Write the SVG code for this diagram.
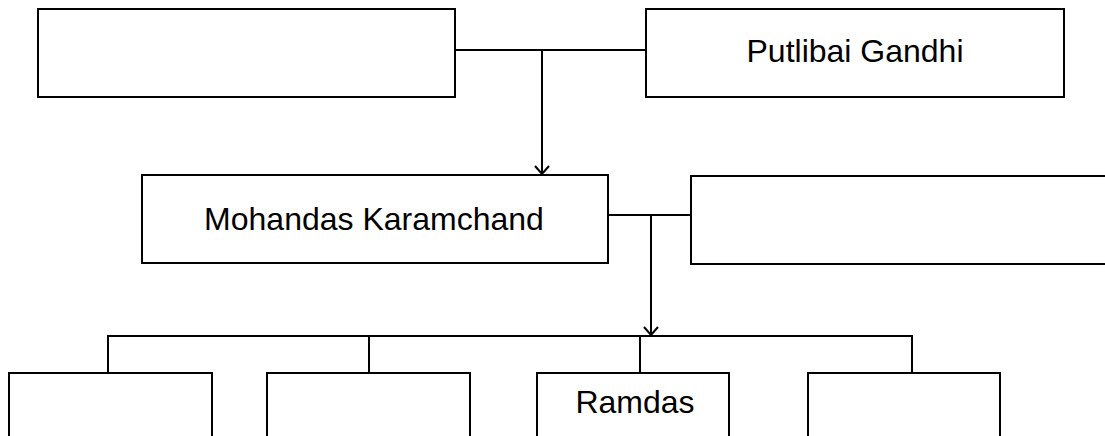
<svg xmlns="http://www.w3.org/2000/svg" width="1105" height="436" viewBox="0 0 1105 436">
<style>
.box{fill:#fff;stroke:#000;stroke-width:2}
.ln{fill:none;stroke:#000;stroke-width:2}
.t{font-family:"Liberation Sans",Arial,sans-serif;font-size:32px;fill:#000;text-anchor:middle}
</style>
<defs>
<marker id="arr" viewBox="0 0 16 16" refX="14" refY="8" markerWidth="16" markerHeight="16" markerUnits="userSpaceOnUse" orient="auto">
<polyline points="6,1 14,8 6,15" fill="none" stroke="#000" stroke-width="2"/>
</marker>
</defs>
<rect width="1105" height="436" fill="#fff"/>
<g id="connectors">
<line class="ln" x1="455" y1="50" x2="646" y2="50"/>
<line class="ln" x1="542" y1="50" x2="542" y2="174" marker-end="url(#arr)"/>
<line class="ln" x1="608" y1="215" x2="690" y2="215"/>
<line class="ln" x1="651" y1="215" x2="651" y2="335" marker-end="url(#arr)"/>
<polyline class="ln" points="108,373 108,336 912,336 912,373"/>
<line class="ln" x1="369" y1="336" x2="369" y2="373"/>
<line class="ln" x1="640" y1="336" x2="640" y2="373"/>
</g>
<g id="father"><rect class="box" x="38" y="9" width="417" height="88"/></g>
<g id="putlibai"><rect class="box" x="646" y="9" width="418" height="88"/><text class="t" x="855" y="62">Putlibai Gandhi</text></g>
<g id="mohandas"><rect class="box" x="142" y="175" width="466" height="88"/><text class="t" x="374" y="230">Mohandas Karamchand</text></g>
<g id="wife"><rect class="box" x="691" y="176" width="430" height="88"/></g>
<g id="child1"><rect class="box" x="9" y="373" width="203" height="80"/></g>
<g id="child2"><rect class="box" x="267" y="373" width="203" height="80"/></g>
<g id="ramdas"><rect class="box" x="537" y="373" width="192" height="80"/><text class="t" x="635" y="413">Ramdas</text></g>
<g id="child4"><rect class="box" x="808" y="373" width="192" height="80"/></g>
</svg>
